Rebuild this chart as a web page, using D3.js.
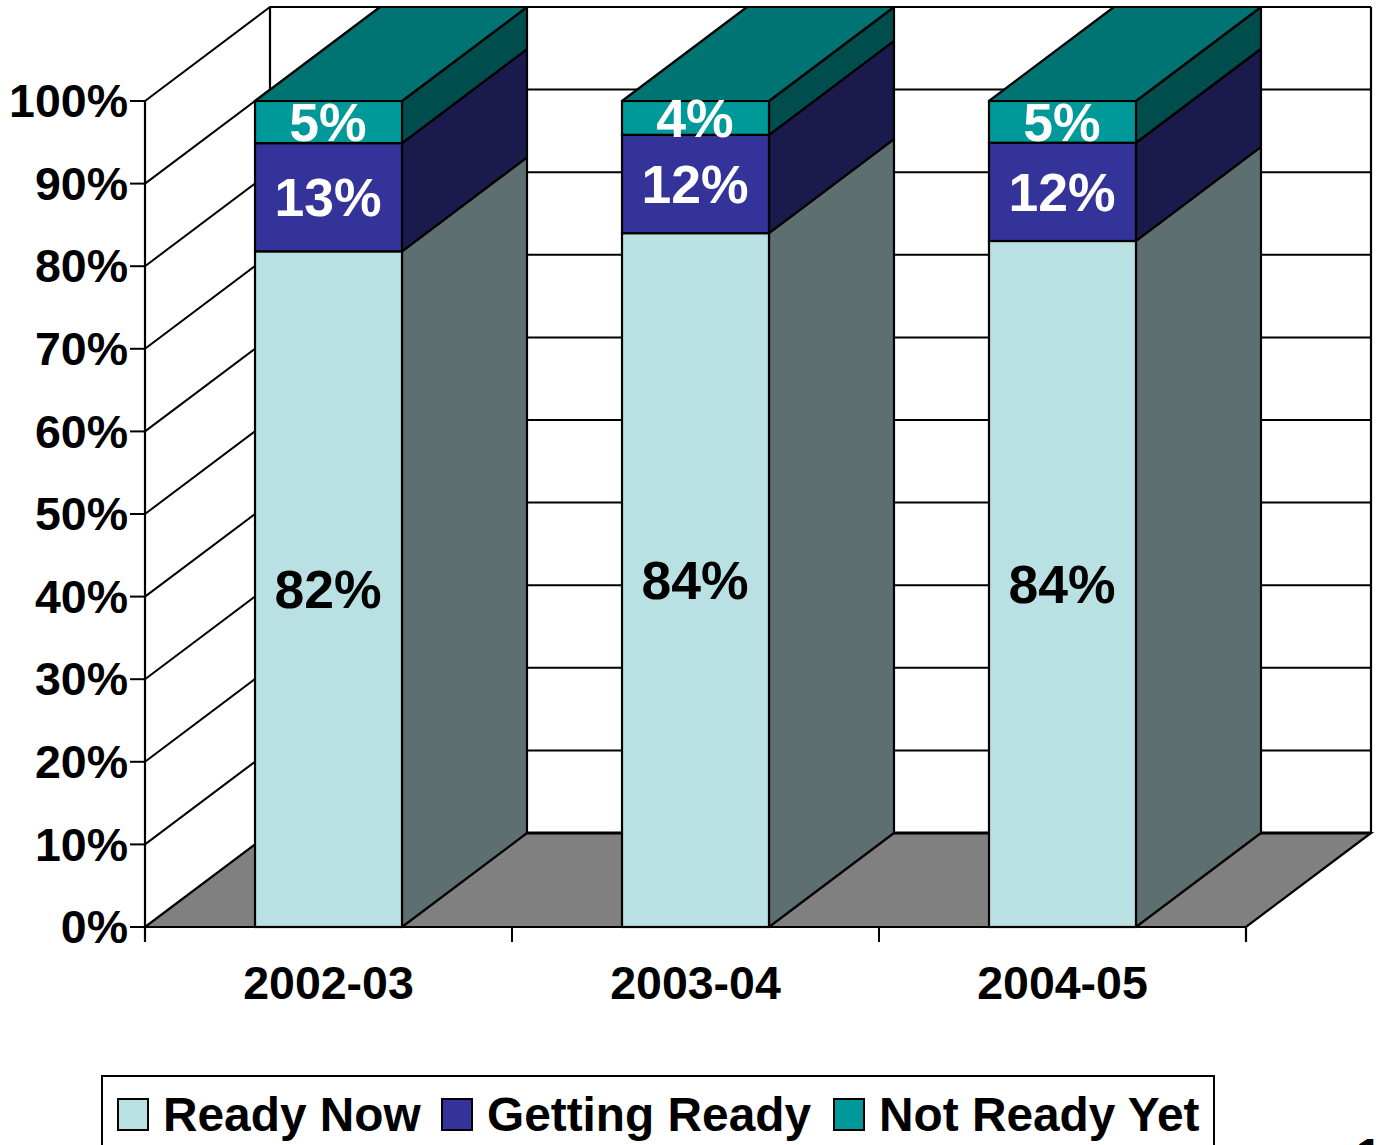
<!DOCTYPE html>
<html lang="en">
<head>
    <meta charset="UTF-8">
    <title>Readiness stacked bars</title>
    <script src="https://d3js.org/d3.v7.min.js"></script>
    <style>
        html, body { margin: 0; padding: 0; background: #fff; }
        svg { display: block; }
        text { font-family: "Liberation Sans", Arial, sans-serif; font-weight: bold; }
    </style>
</head>
<body>
<svg width="1378" height="1145"></svg>
<script>
    // Chart values
    const categories = ["2002-03", "2003-04", "2004-05"];
    const seriesNames = ["Ready Now", "Getting Ready", "Not Ready Yet"];
    // bar heights are 100% stacked, the labels are these values rounded
    const readyNow = [81.8, 84, 83.8];
    const gettingReady = [13.1, 11.9, 12];
    const notReadyYet = [5.1, 4.1, 5.1];
    const yTicks = [0, 10, 20, 30, 40, 50, 60, 70, 80, 90, 100];

    const frontColors = ["#b9e0e3", "#333399", "#009999"];
    const sideColors = ["#5e6f71", "#1a1a4d", "#004d4d"];
    const topColor = "#007373";
    const floorColor = "#808080";

    // 3D offset of the box
    const depth = {x: 125, y: -94};
    const plot = {left: 145, right: 1246, top: 101, bottom: 927};

    const svg = d3.select("svg");

    const rows = categories.map((c, i) => ({
        category: c,
        "Ready Now": readyNow[i],
        "Getting Ready": gettingReady[i],
        "Not Ready Yet": notReadyYet[i]
    }));
    const stacked = d3.stack().keys(seriesNames).offset(d3.stackOffsetExpand)(rows);

    const x = d3.scaleBand().domain(categories).range([plot.left, plot.right])
        .paddingInner(0.5995).paddingOuter(0.2998);
    const y = d3.scaleLinear().domain([0, 1]).range([plot.bottom, plot.top]);
    const yPct = d3.scaleLinear().domain([0, 100]).range([plot.bottom, plot.top]);
    // boundary ticks between the categories
    const xEdges = d3.scaleLinear().domain([0, categories.length]).range([plot.left, plot.right]);

    const poly = pts => pts.map(p => p.join(",")).join(" ");
    const lineColor = "#000";

    // Floor
    svg.append("polygon")
        .attr("points", poly([[plot.left, plot.bottom], [plot.right, plot.bottom],
            [plot.right + depth.x, plot.bottom + depth.y], [plot.left + depth.x, plot.bottom + depth.y]]))
        .attr("fill", floorColor).attr("stroke", lineColor).attr("stroke-width", 2.2);

    // Gridlines on side wall and back wall
    svg.append("g").selectAll("polyline").data(yTicks.filter(d => d > 0)).join("polyline")
        .attr("points", d => poly([[plot.left, yPct(d)],
            [plot.left + depth.x, yPct(d) + depth.y],
            [plot.right + depth.x, yPct(d) + depth.y]]))
        .attr("fill", "none").attr("stroke", lineColor).attr("stroke-width", 2);

    svg.append("line")
        .attr("x1", plot.left + depth.x).attr("x2", plot.left + depth.x)
        .attr("y1", plot.top + depth.y).attr("y2", plot.bottom + depth.y)
        .attr("stroke", lineColor).attr("stroke-width", 2.2);
    svg.append("line")
        .attr("x1", plot.right + depth.x).attr("x2", plot.right + depth.x)
        .attr("y1", plot.top + depth.y).attr("y2", plot.bottom + depth.y)
        .attr("stroke", lineColor).attr("stroke-width", 2.2);
    svg.append("line")
        .attr("x1", plot.left + depth.x).attr("x2", plot.right + depth.x)
        .attr("y1", plot.bottom + depth.y).attr("y2", plot.bottom + depth.y)
        .attr("stroke", lineColor).attr("stroke-width", 3);

    // Axes
    const yAxis = svg.append("g")
        .attr("transform", "translate(" + plot.left + ",0)")
        .call(d3.axisLeft(yPct).offset(0).tickValues(yTicks).tickSize(15).tickPadding(2).tickFormat(d => d + "%"));
    yAxis.selectAll("text").attr("font-size", 46.5).attr("fill", "#000")
        .attr("font-family", null).attr("dy", "0.35em");

    svg.append("g")
        .attr("transform", "translate(0," + plot.bottom + ")")
        .call(d3.axisBottom(xEdges).offset(0).tickValues(d3.range(categories.length + 1)).tickSize(15).tickFormat(""));

    svg.selectAll(".domain").attr("stroke", lineColor).attr("stroke-width", 2.2);
    svg.selectAll(".tick line").attr("stroke", lineColor).attr("stroke-width", 2);

    svg.append("g").selectAll("text").data(categories).join("text")
        .attr("x", d => x(d) + x.bandwidth() / 2)
        .attr("y", 999)
        .attr("text-anchor", "middle")
        .attr("font-size", 46.5)
        .attr("fill", "#000")
        .text(d => d);

    // Bars, one box per stacked segment
    const bars = svg.append("g").selectAll("g").data(categories).join("g");
    bars.each(function (cat, ci) {
        const g = d3.select(this);
        const left = x(cat), right = left + x.bandwidth();
        stacked.forEach((s, si) => {
            const y0 = y(s[ci][0]), y1 = y(s[ci][1]);
            // side face
            g.append("polygon")
                .attr("points", poly([[right, y0], [right + depth.x, y0 + depth.y],
                    [right + depth.x, y1 + depth.y], [right, y1]]))
                .attr("fill", sideColors[si]).attr("stroke", lineColor).attr("stroke-width", 2.2)
                .attr("stroke-linejoin", "round");
            // front face
            g.append("rect")
                .attr("x", left).attr("y", y1)
                .attr("width", x.bandwidth()).attr("height", y0 - y1)
                .attr("fill", frontColors[si]).attr("stroke", lineColor).attr("stroke-width", 2.2);
        });
        // top face of the uppermost segment
        const yTop = y(1);
        g.append("polygon")
            .attr("points", poly([[left, yTop], [right, yTop],
                [right + depth.x, yTop + depth.y], [left + depth.x, yTop + depth.y]]))
            .attr("fill", topColor).attr("stroke", lineColor).attr("stroke-width", 2.2)
            .attr("stroke-linejoin", "round");
    });

    // Value labels
    const labelColors = ["#000", "#fff", "#fff"];
    stacked.forEach((s, si) => {
        svg.append("g").selectAll("text").data(s).join("text")
            .attr("x", d => x(d.data.category) + x.bandwidth() / 2 - 0.5)
            .attr("y", d => (y(d[0]) + y(d[1])) / 2)
            .attr("dy", "0.35em")
            .attr("text-anchor", "middle")
            .attr("font-size", 53.5)
            .attr("fill", labelColors[si])
            .text(d => Math.round(d.data[seriesNames[si]]) + "%");
    });

    // Legend, the box runs off the bottom of the page
    const legendBox = {x: 102, y: 1076, width: 1112, height: 90};
    svg.append("rect")
        .attr("x", legendBox.x).attr("y", legendBox.y)
        .attr("width", legendBox.width).attr("height", legendBox.height)
        .attr("fill", "#fff").attr("stroke", "#000").attr("stroke-width", 2);

    const legendX = d3.scaleOrdinal().domain(seriesNames).range([118, 442, 834]);
    const legend = svg.append("g").selectAll("g").data(seriesNames).join("g")
        .attr("transform", d => "translate(" + legendX(d) + ",1099)");
    legend.append("rect")
        .attr("width", 30).attr("height", 31)
        .attr("fill", (d, i) => frontColors[i])
        .attr("stroke", "#000").attr("stroke-width", 2);
    legend.append("text")
        .attr("x", 45).attr("y", 32)
        .attr("font-size", 47.8)
        .attr("fill", "#000")
        .text(d => d);

    // Page number, cut off by the bottom edge as in the reference
    svg.append("text")
        .attr("x", 1356).attr("y", 1171)
        .attr("font-size", 46.5)
        .attr("fill", "#000")
        .text("1");
</script>
</body>
</html>
